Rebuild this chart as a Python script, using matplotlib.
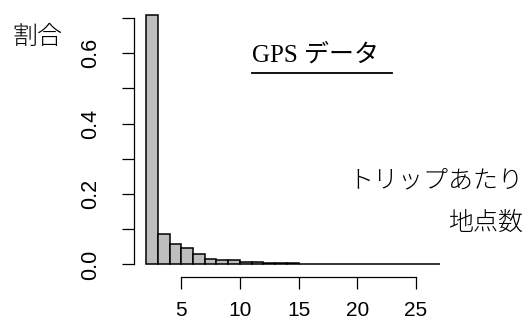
import matplotlib
matplotlib.use('Agg')
import matplotlib.pyplot as plt
from matplotlib.lines import Line2D

# points per trip (left edge of each unit-wide bin) and share of trips
points = list(range(2, 27))
share = [0.709, 0.086, 0.058, 0.046, 0.029, 0.016, 0.012, 0.012, 0.007,
         0.007, 0.004, 0.003, 0.003, 0.001, 0.001, 0.001, 0.001, 0.0008,
         0.0008, 0.0006, 0.0006, 0.0005, 0.0005, 0.0005, 0.0005]

xticks = [5, 10, 15, 20, 25]
yticks = [0.0, 0.1, 0.2, 0.3, 0.4, 0.5, 0.6, 0.7]
ylabels = ['0.0', '', '0.2', '', '0.4', '', '0.6', '']

W, H = 531, 325
fig = plt.figure(figsize=(W / 100, H / 100), dpi=100)
ax = fig.add_axes([134.3 / W, 1 - 276.7 / H, (451.25 - 134.3) / W, (276.7 - 4) / H])

ax.bar(points, share, width=1.0, align='edge', color='#bebebe',
       edgecolor='black', linewidth=1.1)

ax.set_xlim(1, 28)
ax.set_ylim(-0.035, 0.74)
for s in ['top', 'right']:
    ax.spines[s].set_visible(False)
ax.spines['left'].set_bounds(0, 0.7)
ax.spines['bottom'].set_bounds(5, 25)
ax.spines['left'].set_linewidth(0.9)
ax.spines['bottom'].set_linewidth(0.9)

ax.set_xticks(xticks)
ax.set_xticklabels([str(t) for t in xticks], family='Liberation Sans', fontsize=15)
ax.set_yticks(yticks)
ax.set_yticklabels(ylabels, family='Liberation Sans', fontsize=15.5,
                   rotation=90, va='center')
ax.tick_params(axis='x', length=8.3, width=0.9, pad=9)
ax.tick_params(axis='y', length=9, width=0.9, pad=15)

fig.text(37.5 / W, 1 - 37 / H, '割合', family=['Noto Sans CJK JP'],
         fontsize=18, ha='center', va='center', fontweight='light')
fig.text(252 / W, 1 - 55 / H, 'GPS データ',
         family=['Liberation Serif', 'Noto Sans CJK JP'], fontsize=18,
         ha='left', va='center')
fig.add_artist(Line2D([252 / W, 392 / W], [1 - 73 / H, 1 - 73 / H],
                      color='black', linewidth=1.3))
fig.text(523 / W, 1 - 180 / H, 'トリップあたり', family=['Noto Sans CJK JP'],
         fontsize=18, ha='right', va='center', fontweight='light')
fig.text(523 / W, 1 - 223 / H, '地点数', family=['Noto Sans CJK JP'],
         fontsize=18, ha='right', va='center', fontweight='light')

fig.savefig('out.png', dpi=100)
